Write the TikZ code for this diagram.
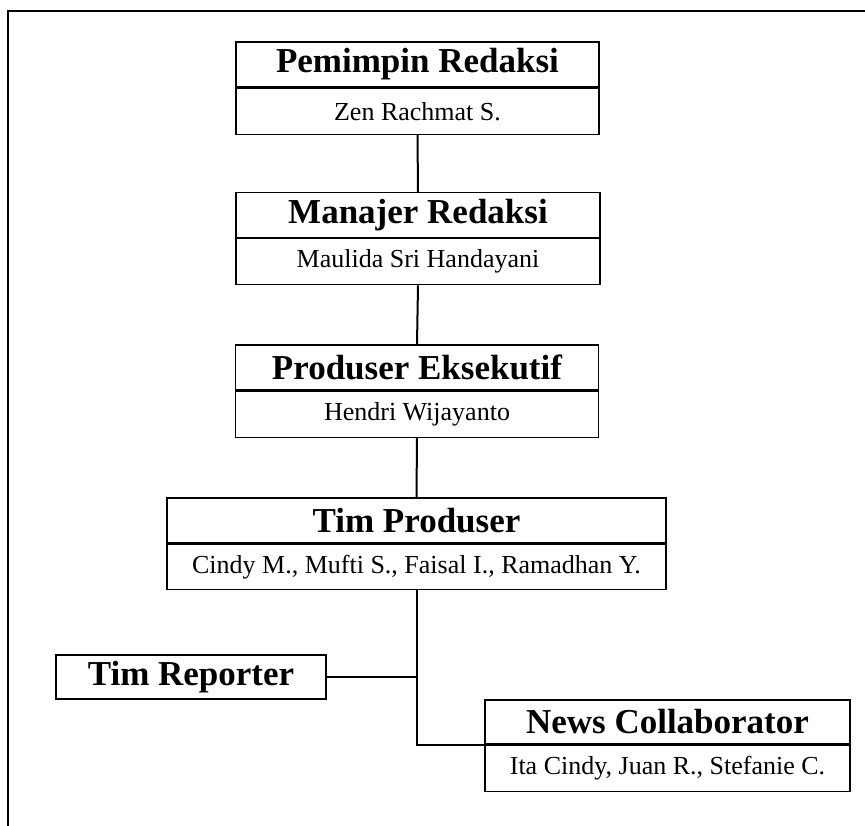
\documentclass[tikz,border=0pt]{standalone}
\usepackage{fontspec}
\setmainfont{Liberation Serif}
\begin{document}
\begin{tikzpicture}[x=1pt,y=-1pt,
  titlebox/.style={draw, line width=1.2pt, inner sep=0pt, minimum height=45pt,
    font=\fontsize{35}{40}\selectfont\bfseries},
  subbox/.style={draw, line width=1.2pt, inner sep=0pt, minimum height=46pt, anchor=north,
    font=\fontsize{26}{30}\selectfont},
  link/.style={line width=2pt}]
\useasboundingbox (0,0) rectangle (865,826);
\draw[line width=2.5pt] (8,828) -- (8,11) -- (867,11);

\node[titlebox, minimum width=363pt] (pr) at (417.5,64.5) {Pemimpin Redaksi};
\node[subbox, minimum width=363pt] (prs) at (pr.south) {Zen Rachmat S.};

\node[titlebox, minimum width=364pt] (mr) at (418,215) {Manajer Redaksi};
\node[subbox, minimum width=364pt] (mrs) at (mr.south) {Maulida Sri Handayani};

\node[titlebox, minimum width=363pt] (pe) at (417,367.5) {Produser Eksekutif};
\node[subbox, minimum width=363pt] (pes) at (pe.south) {Hendri Wijayanto};

\node[titlebox, minimum width=499pt] (tp) at (416.5,520.5) {Tim Produser};
\node[subbox, minimum width=499pt, minimum height=45pt] (tps) at (tp.south) {Cindy M., Mufti S., Faisal I., Ramadhan Y.};

\node[titlebox, minimum width=270pt, minimum height=44pt] (tr) at (191,677) {Tim Reporter};

\node[titlebox, minimum width=365pt, minimum height=44pt] (nc) at (667.5,722) {News Collaborator};
\node[subbox, minimum width=365pt] (ncs) at (nc.south) {Ita Cindy, Juan R., Stefanie C.};

\draw[link] (prs.south) -- (mr.north);
\draw[link] (mrs.south) -- (pe.north);
\draw[link] (pes.south) -- (tp.north);
\draw[link] (tps.south) |- (nc.south west);
\draw[link] (tr.east) -- (tr.east -| tps.south);
\end{tikzpicture}
\end{document}
